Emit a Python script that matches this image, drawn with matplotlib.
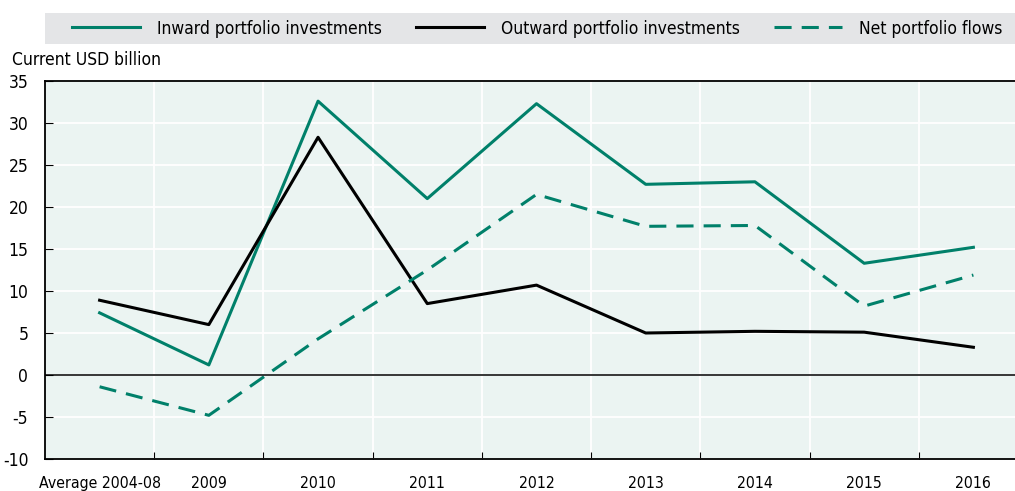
import numpy as np
import matplotlib as mpl
mpl.use('Agg')
import matplotlib.pyplot as plt

plt.rcParams['font.family'] = ['DejaVu Sans']
plt.rcParams['font.stretch'] = 'condensed'

# data
categories = ["Average 2004-08", "2009", "2010", "2011", "2012", "2013", "2014", "2015", "2016"]
inward = [7.4, 1.2, 32.6, 21.0, 32.3, 22.7, 23.0, 13.3, 15.2]
outward = [8.9, 6.0, 28.3, 8.5, 10.7, 5.0, 5.2, 5.1, 3.3]
net = [-1.4, -4.8, 4.3, 12.5, 21.5, 17.7, 17.8, 8.2, 11.9]
yticks = [-10, -5, 0, 5, 10, 15, 20, 25, 30, 35]

green = "#00806A"
W, H = 1015, 491

fig = plt.figure(figsize=(W / 100, H / 100), dpi=100)
ax = fig.add_axes([45 / W, 1 - 459 / H, (1028 - 45) / W, (459 - 81) / H])
ax.set_facecolor("#EBF4F2")

x = np.arange(len(categories))
l1, = ax.plot(x, inward, color=green, lw=2.2, label="Inward portfolio investments")
l2, = ax.plot(x, outward, color="black", lw=2.2, label="Outward portfolio investments")
l3, = ax.plot(x, net, color=green, lw=2.2, dashes=(5.6, 3.3), label="Net portfolio flows")

ax.set_xlim(-0.5, len(categories) - 0.5)
ax.set_ylim(-10, 35)
ax.set_yticks(yticks)
ax.set_yticklabels([str(v) for v in yticks])
ax.set_xticks(x)
ax.set_xticklabels(categories)
ax.set_xticks(x[:-1] + 0.5, minor=True)

ax.grid(True, axis="y", color="white", lw=1.3)
ax.grid(True, axis="x", which="minor", color="white", lw=1.3)
ax.set_axisbelow(True)
ax.axhline(0, color="black", lw=1.1)

ax.tick_params(axis="x", which="major", length=0, pad=12, labelsize=11.3)
ax.tick_params(axis="x", which="minor", direction="in", length=5, width=0.8)
ax.tick_params(axis="y", direction="in", length=6, width=0.8, pad=12, labelsize=12.5)

for s in ["left", "bottom", "top"]:
    ax.spines[s].set_linewidth(1.3)
    ax.spines[s].set_color("black")
ax.spines["right"].set_visible(False)

fig.text(12 / W, 1 - 60 / H, "Current USD billion", fontsize=12.5, va="center", ha="left")

# legend band
band = plt.Rectangle((45 / W, 1 - 44 / H), (1015 - 45) / W, 31 / H,
                     transform=fig.transFigure, facecolor="#E4E5E7", edgecolor="none")
fig.patches.append(band)
for line, xs in [(l1, 72), (l2, 416), (l3, 774)]:
    fig.legend([line], [line.get_label()], loc="center left",
               bbox_to_anchor=(xs / W, 1 - 28.5 / H), frameon=False,
               borderpad=0, borderaxespad=0, fontsize=12.5,
               handlelength=3.9, handletextpad=1.0)

fig.savefig("out.png", dpi=100)
